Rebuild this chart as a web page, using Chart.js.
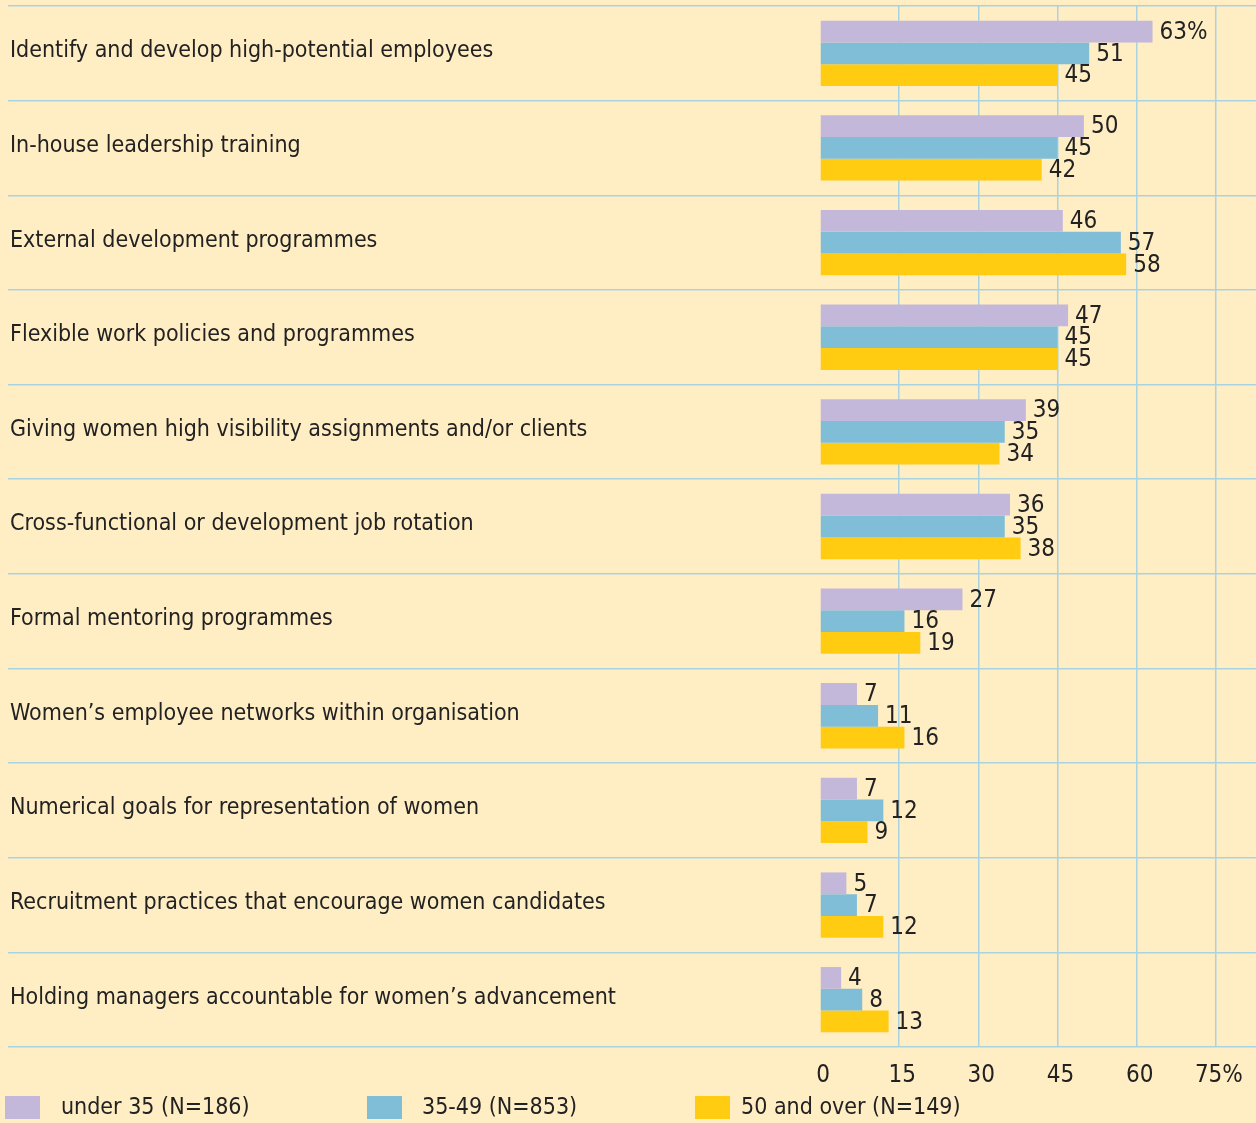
<!DOCTYPE html>
<html>
<head>
<meta charset="utf-8">
<script src="https://cdn.jsdelivr.net/npm/chart.js@4.4.1/dist/chart.umd.min.js"></script>
<style>
  html, body { margin: 0; padding: 0; background: #FFEDC4; }
  #wrap { position: relative; width: 1256px; height: 1123px; }
</style>
</head>
<body>
<div id="wrap"><canvas id="chart" width="1256" height="1123"></canvas></div>
<script>
// data
const categories = [
    "Identify and develop high-potential employees",
    "In-house leadership training",
    "External development programmes",
    "Flexible work policies and programmes",
    "Giving women high visibility assignments and/or clients",
    "Cross-functional or development job rotation",
    "Formal mentoring programmes",
    "Women\u2019s employee networks within organisation",
    "Numerical goals for representation of women",
    "Recruitment practices that encourage women candidates",
    "Holding managers accountable for women\u2019s advancement"
];
const seriesNames = ["under 35 (N=186)", "35-49 (N=853)", "50 and over (N=149)"];
const under35 = [63, 50, 46, 47, 39, 36, 27, 7, 7, 5, 4];
const age35to49 = [51, 45, 57, 45, 35, 35, 16, 11, 12, 7, 8];
const age50plus = [45, 42, 58, 45, 34, 38, 19, 16, 9, 12, 13];
const xTicks = [0, 15, 30, 45, 60, 75];

const colors = ['#C4B8DA', '#80BED8', '#FFCC11'];
const gridColor = '#A9D3E1';
const textColor = '#222222';
const FONT = "'Liberation Sans Narrow', 'DejaVu Sans Condensed', sans-serif";

// value labels at the end of each bar
const valueLabels = {
    id: 'valueLabels',
    afterDatasetsDraw(chart) {
        const ctx = chart.ctx;
        ctx.save();
        ctx.font = '24px ' + FONT;
        ctx.fillStyle = textColor;
        ctx.textBaseline = 'middle';
        ctx.textAlign = 'left';
        chart.data.datasets.forEach((ds, di) => {
            chart.getDatasetMeta(di).data.forEach((bar, i) => {
                let txt = String(ds.data[i]);
                if (di === 0 && i === 0) txt += '%';
                ctx.fillText(txt, bar.x + 7, bar.y + 1);
            });
        });
        ctx.restore();
    }
};

// legend row along the bottom
const bottomLegend = {
    id: 'bottomLegend',
    afterDraw(chart) {
        const ctx = chart.ctx;
        const boxX = [5, 367, 695];
        const textX = [61, 422, 741];
        ctx.save();
        ctx.font = '23px ' + FONT;
        ctx.textBaseline = 'middle';
        ctx.textAlign = 'left';
        chart.data.datasets.forEach((ds, di) => {
            ctx.fillStyle = ds.backgroundColor;
            ctx.fillRect(boxX[di], 1096, 35, 23);
            ctx.fillStyle = textColor;
            ctx.fillText(ds.label, textX[di], 1108);
        });
        ctx.restore();
    }
};

new Chart(document.getElementById('chart'), {
    type: 'bar',
    data: {
        labels: categories,
        datasets: [
            { label: seriesNames[0], data: under35, backgroundColor: colors[0] },
            { label: seriesNames[1], data: age35to49, backgroundColor: colors[1] },
            { label: seriesNames[2], data: age50plus, backgroundColor: colors[2] }
        ]
    },
    options: {
        indexAxis: 'y',
        responsive: false,
        animation: false,
        layout: { padding: { top: 6, left: 10, right: 0, bottom: 0 } },
        datasets: { bar: { categoryPercentage: 0.69, barPercentage: 1.0 } },
        scales: {
            x: {
                min: 0,
                max: 82.6,
                afterBuildTicks(scale) {
                    scale.ticks = xTicks.map(v => ({ value: v }));
                },
                afterFit(scale) {
                    scale.height = 76;
                    scale.paddingLeft = 0;
                    scale.paddingRight = 0;
                },
                border: { display: false },
                grid: {
                    color: ctx => ctx.tick && ctx.tick.value === 0 ? 'rgba(0,0,0,0)' : gridColor,
                    lineWidth: 1.5,
                    drawTicks: false
                },
                ticks: {
                    padding: 14,
                    labelOffset: 3,
                    color: textColor,
                    font: { family: FONT, size: 24 },
                    callback: v => v === 75 ? '75%' : v
                }
            },
            y: {
                afterFit(scale) {
                    scale.width = 810;
                    scale.paddingTop = 0;
                    scale.paddingBottom = 0;
                },
                border: { display: false },
                grid: {
                    color: gridColor,
                    lineWidth: 1.5,
                    drawTicks: true,
                    tickLength: 812
                },
                ticks: {
                    crossAlign: 'far',
                    padding: 0,
                    labelOffset: -2,
                    color: textColor,
                    font: { family: FONT, size: 23 }
                }
            }
        },
        plugins: {
            legend: { display: false },
            tooltip: { enabled: false }
        }
    },
    plugins: [valueLabels, bottomLegend]
});
</script>
</body>
</html>
